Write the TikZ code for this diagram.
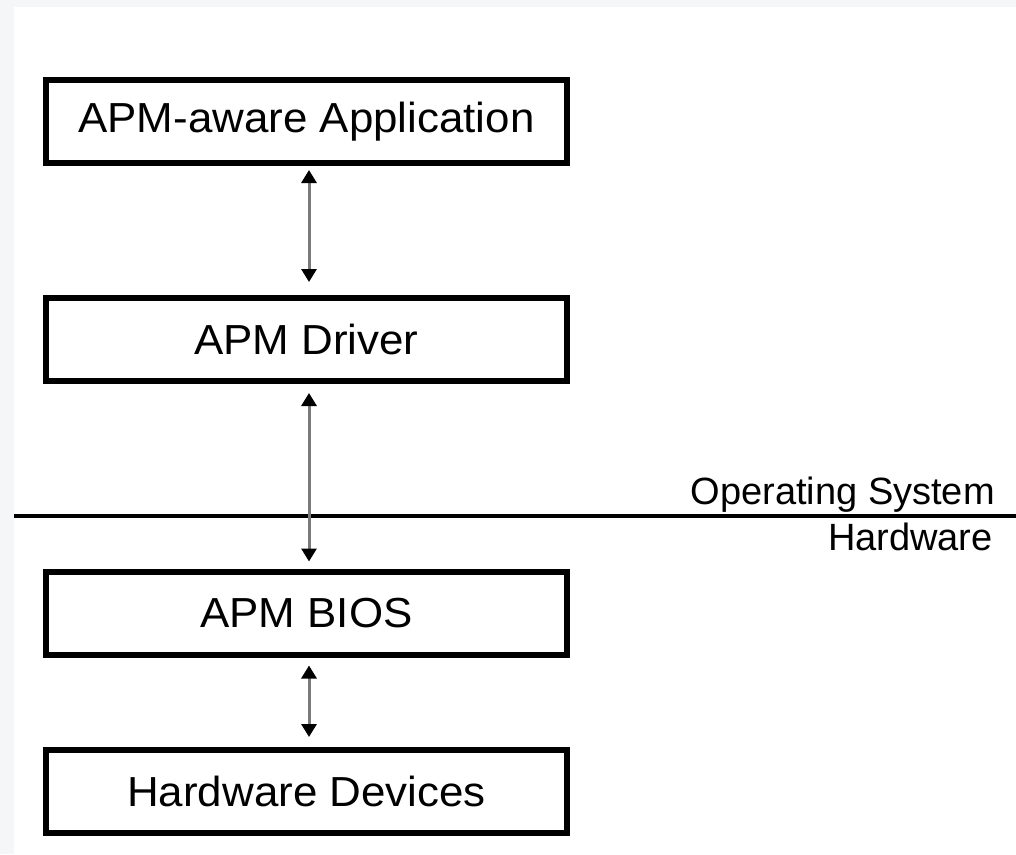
\documentclass[tikz,border=0pt]{standalone}
\usepackage{fontspec}
\setmainfont{Liberation Sans}
\newfontfamily\boxfont[FakeStretch=1.045]{Liberation Sans}
\usetikzlibrary{arrows.meta}
\definecolor{bgband}{HTML}{F5F6F8}
\definecolor{shaft}{HTML}{7A7A7A}
\begin{document}
\begin{tikzpicture}[x=1pt,y=1pt,
  layerbox/.style={draw=black, line width=6pt, minimum width=521pt, minimum height=83pt,
    inner sep=0pt, font=\boxfont\fontsize{42}{48}\selectfont},
  sidelabel/.style={inner sep=0pt, font=\fontsize{38}{44}\selectfont},
  updown/.style={shaft, line width=3pt,
    {Triangle[length=13pt,width=15pt,color=black]}-{Triangle[length=13pt,width=15pt,color=black]}}
  ]
\fill[bgband] (0,0) rectangle (1016,-854);
\fill[white] (14,-7) rectangle (1016,-854);
\useasboundingbox (0,0) rectangle (1016,-854);

\node[layerbox] (app) at (306.5,-121.5) {APM-aware Application};
\node[layerbox] (drv) at (306.5,-339.5) {APM Driver};
\node[layerbox] (bios) at (306.5,-613) {APM BIOS};
\node[layerbox] (hw) at (306.5,-791.5) {Hardware Devices};

\coordinate (lineL) at (14,-516);
\coordinate (lineR) at (1016,-516);
\draw[black, line width=4.5pt] (lineL) -- (lineR);

\node[sidelabel, anchor=base east] (os) at (995,-504) {Operating System};
\node[sidelabel, anchor=base east] (hwl) at (993,-550) {Hardware};

\draw[updown, shorten <=4pt, shorten >=13pt] ([xshift=2.5pt]app.south) -- ([xshift=2.5pt]drv.north);
\draw[updown, shorten <=9pt, shorten >=7pt] ([xshift=2.5pt]drv.south) -- ([xshift=2.5pt]bios.north);
\draw[updown, shorten <=8pt, shorten >=10pt] ([xshift=2.5pt]bios.south) -- ([xshift=2.5pt]hw.north);
\end{tikzpicture}
\end{document}
